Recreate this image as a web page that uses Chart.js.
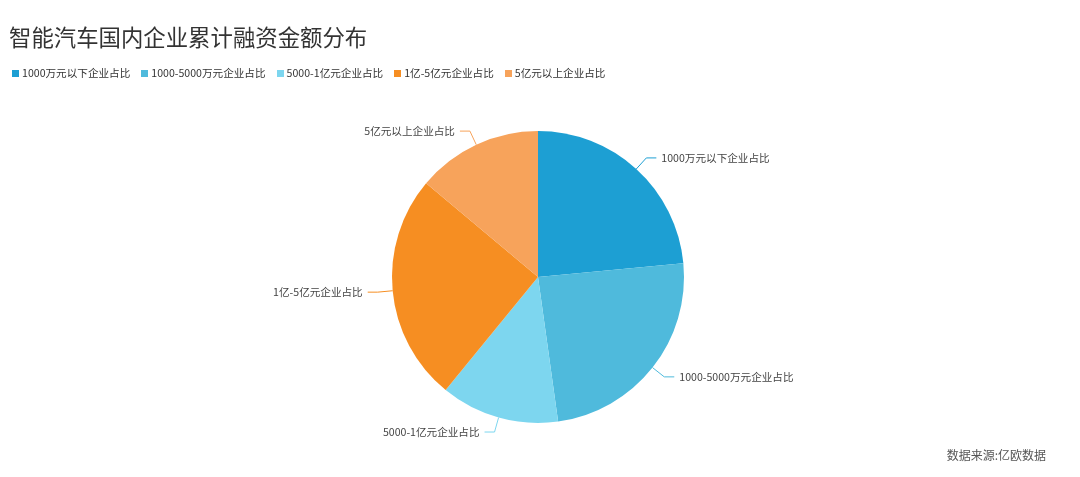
<!DOCTYPE html>
<html lang="zh">
<head>
    <meta charset="UTF-8">
    <title>智能汽车国内企业累计融资金额分布</title>
    <script src="https://cdn.jsdelivr.net/npm/chart.js"></script>
    <style>
        body {
            margin: 0;
            background: #fff;
            font-family: 'Noto Sans CJK SC', 'Noto Sans', sans-serif;
        }

        .wrap {
            position: relative;
            width: 1080px;
            height: 477px;
        }

        h1 {
            position: absolute;
            left: 9px;
            top: 18px;
            margin: 0;
            font-size: 22.4px;
            font-weight: normal;
            color: #333;
            line-height: 36px;
        }

        .legend {
            position: absolute;
            left: 12px;
            top: 65px;
            display: flex;
            font-size: 10.6px;
            color: #333;
            line-height: 16px;
        }

        .legend span {
            display: flex;
            align-items: center;
            margin-right: 11px;
        }

        .legend i {
            display: inline-block;
            width: 7px;
            height: 7px;
            margin-right: 3px;
        }

        .source {
            position: absolute;
            right: 34px;
            top: 446px;
            font-size: 12px;
            color: #555;
        }

        canvas {
            position: absolute;
            left: 0;
            top: 0;
        }
    </style>
</head>
<body>

<div class="wrap">
    <canvas id="pie" width="1080" height="477"></canvas>
    <h1>智能汽车国内企业累计融资金额分布</h1>
    <div class="legend" id="legend"></div>
    <div class="source">数据来源:亿欧数据</div>
</div>

<script>
    // chart data
    const categories = ['1000万元以下企业占比', '1000-5000万元企业占比', '5000-1亿元企业占比', '1亿-5亿元企业占比', '5亿元以上企业占比'];
    const shares = [23.5, 24.3, 13.1, 25.2, 13.9];
    const colors = ['#1d9fd3', '#4fbadc', '#7dd6ef', '#f68e22', '#f7a35b'];

    // html legend
    const legend = document.getElementById('legend');
    categories.forEach((name, i) => {
        const item = document.createElement('span');
        item.innerHTML = `<i style="background:${colors[i]}"></i>${name}`;
        legend.appendChild(item);
    });

    // outside labels with elbow leader lines
    const leaderLabels = {
        id: 'leaderLabels',
        afterDatasetsDraw(chart) {
            const ctx = chart.ctx;
            const meta = chart.getDatasetMeta(0);
            ctx.save();
            ctx.font = "10.6px 'Noto Sans CJK SC', sans-serif";
            ctx.textBaseline = 'middle';
            meta.data.forEach((arc, i) => {
                const mid = (arc.startAngle + arc.endAngle) / 2;
                const r = arc.outerRadius;
                const cos = Math.cos(mid), sin = Math.sin(mid);
                const x1 = arc.x + cos * r, y1 = arc.y + sin * r;
                const x2 = arc.x + cos * (r + 15), y2 = arc.y + sin * (r + 15);
                const dir = cos >= 0 ? 1 : -1;
                const x3 = x2 + dir * 10;
                ctx.strokeStyle = colors[i];
                ctx.lineWidth = 1;
                ctx.beginPath();
                ctx.moveTo(x1, y1);
                ctx.lineTo(x2, y2);
                ctx.lineTo(x3, y2);
                ctx.stroke();
                ctx.fillStyle = '#444';
                ctx.textAlign = dir > 0 ? 'left' : 'right';
                ctx.fillText(categories[i], x3 + dir * 5, y2);
            });
            ctx.restore();
        }
    };

    new Chart(document.getElementById('pie'), {
        type: 'pie',
        data: {
            labels: categories,
            datasets: [{
                data: shares,
                backgroundColor: colors,
                borderWidth: 0
            }]
        },
        options: {
            responsive: false,
            animation: false,
            layout: {
                padding: { top: 131, bottom: 54, left: 392, right: 396 }
            },
            plugins: {
                legend: { display: false },
                tooltip: { enabled: false }
            }
        },
        plugins: [leaderLabels]
    });
</script>

</body>
</html>
